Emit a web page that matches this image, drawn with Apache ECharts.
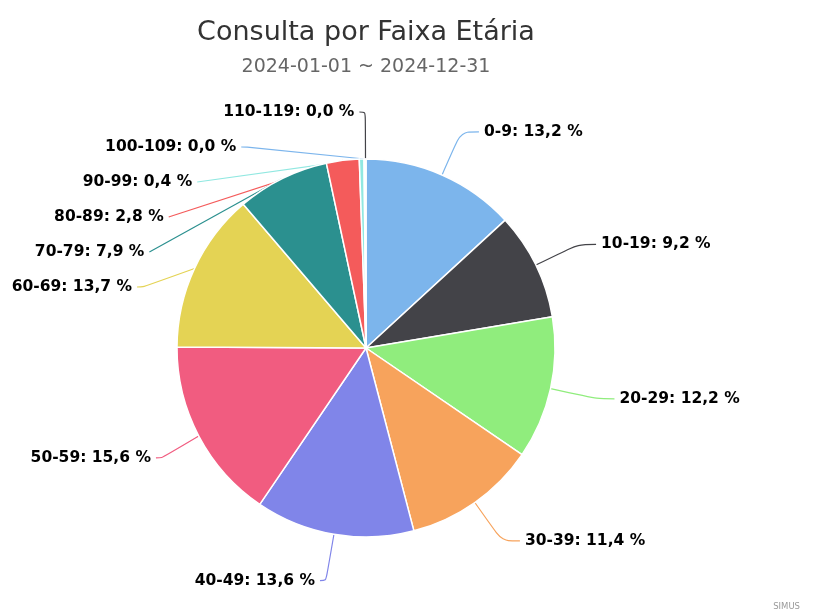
<!DOCTYPE html>
<html><head><meta charset="utf-8">
<script src="https://cdn.jsdelivr.net/npm/echarts@6/dist/echarts.min.js"></script>
<style>html,body{margin:0;padding:0;background:#fff}#c{width:816px;height:614px}</style>
</head><body><div id="c"></div>
<script>
const categories = ['0-9','10-19','20-29','30-39','40-49','50-59','60-69','70-79','80-89','90-99','100-109','110-119'];
const values = [13.2, 9.2, 12.2, 11.4, 13.6, 15.6, 13.7, 7.9, 2.8, 0.4, 0.0, 0.0];
const colors = ['#7cb5ec','#434348','#90ed7d','#f7a35c','#8085e9','#f15c80','#e4d354','#2b908f','#f45b5b','#91e8e1','#7cb5ec','#434348'];
const titleText = 'Consulta por Faixa Etária';
const subtitleText = '2024-01-01 ~ 2024-12-31';
const creditText = 'SIMUS';

const chart = echarts.init(document.getElementById('c'), null, {renderer:'canvas'});
const fmt = v => v.toFixed(1).replace('.', ',');
const total = values.reduce((a, b) => a + b, 0);
let cum = 0;
const pieData = categories.map((c, i) => {
  const mid = cum + values[i] / 2;
  cum += values[i];
  const leftSide = mid >= total / 2;
  return {name: c, value: values[i], labelLine: {length2: leftSide ? 6 : 18}};
});
chart.setOption({
  animation: false,
  color: colors,
  title: [{
    text: titleText, subtext: subtitleText, left: 361, textAlign: 'center', top: 14, itemGap: 12,
    textStyle: {fontFamily: 'DejaVu Sans', fontSize: 27, fontWeight: 'normal', color: '#333'},
    subtextStyle: {fontFamily: 'DejaVu Sans', fontSize: 19, color: '#666'}
  }, {
    text: creditText, right: 16, bottom: 3, padding: 0,
    textStyle: {fontFamily: 'DejaVu Sans', fontSize: 8.5, fontWeight: 'normal', color: '#999'}
  }],
  series: [{
    type: 'pie',
    center: [366, 348],
    radius: 189,
    startAngle: 90,
    clockwise: true,
    minAngle: 0.3,
    data: pieData,
    itemStyle: {borderColor: '#fff', borderWidth: 1.5},
    label: {
      formatter: p => p.name + ': ' + fmt(p.value) + ' %',
      fontFamily: 'DejaVu Sans', fontWeight: 'bold', fontSize: 15.5, color: '#000',
      lineHeight: 33, overflow: 'none'
    },
    labelLine: {length: 47, length2: 18, smooth: 0.3, lineStyle: {width: 1.2}},
    emphasis: {disabled: true}
  }]
});
</script></body></html>
